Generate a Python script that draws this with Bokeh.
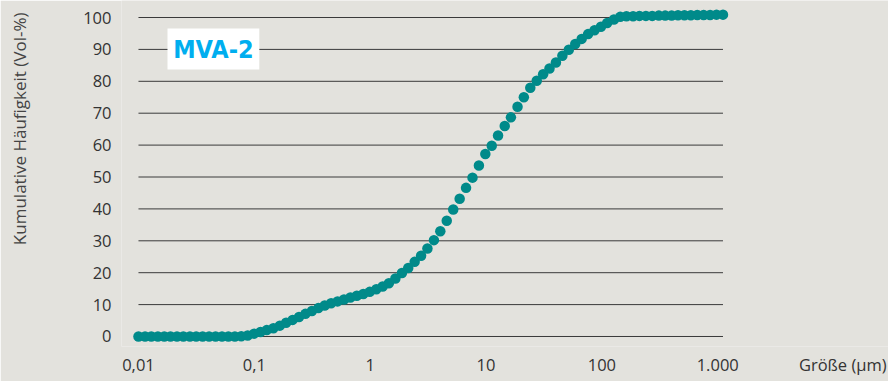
from bokeh.plotting import figure
from bokeh.models import FixedTicker, Label, BoxAnnotation, ColumnDataSource, Title
from bokeh.embed import file_html
from bokeh.resources import INLINE

# Size classes (µm)
sizes = [0.0100, 0.0114, 0.0129, 0.0147, 0.0167, 0.0189, 0.0215, 0.0244, 0.0278, 0.0315,
         0.0358, 0.0407, 0.0463, 0.0526, 0.0597, 0.0679, 0.0771, 0.0876, 0.0995, 0.113,
         0.128, 0.146, 0.166, 0.188, 0.214, 0.243, 0.276, 0.314, 0.357, 0.405,
         0.460, 0.523, 0.594, 0.675, 0.767, 0.872, 0.991, 1.13, 1.28, 1.45,
         1.65, 1.88, 2.13, 2.42, 2.75, 3.12, 3.55, 4.03, 4.58, 5.21,
         5.92, 6.72, 7.64, 8.68, 9.86, 11.2, 12.7, 14.5, 16.4, 18.7,
         21.2, 24.1, 27.4, 31.1, 35.3, 40.1, 45.6, 51.8, 58.9, 66.9,
         76.0, 86.4, 98.1, 111, 127, 144, 163, 186, 211, 240,
         272, 310, 352, 400, 454, 516, 586, 666, 756, 859,
         976, 1110]

# Cumulative frequency (Vol-%)
cumulative = [0, 0, 0, 0, 0, 0, 0, 0, 0, 0,
              0, 0, 0, 0, 0, 0, 0.1, 0.3, 0.9, 1.4,
              2.0, 2.6, 3.4, 4.3, 5.2, 6.1, 7.1, 8.0, 8.9, 9.7,
              10.4, 11.0, 11.6, 12.2, 12.8, 13.3, 14.0, 14.8, 15.7, 16.7,
              18.2, 19.9, 21.5, 23.4, 25.3, 27.6, 30.2, 33.0, 36.3, 39.8,
              43.2, 46.6, 49.8, 53.6, 57.2, 59.8, 63.0, 66.0, 68.7, 72.0,
              75.0, 78.0, 80.2, 82.2, 84.0, 85.9, 88.0, 89.9, 91.7, 93.3,
              94.8, 96.0, 97.1, 98.3, 99.4, 100.2, 100.4, 100.4, 100.5, 100.5,
              100.5, 100.6, 100.6, 100.6, 100.7, 100.7, 100.7, 100.8, 100.8, 100.8,
              100.9, 100.9]

x_ticks = [0.01, 0.1, 1, 10, 100, 1000]
x_tick_labels = ["0,01", "0,1", "1", "10", "100", "1.000"]
x_title = "Größe (µm)"
x_title_pos = 12000
y_ticks = [0, 10, 20, 30, 40, 50, 60, 70, 80, 90, 100]
y_title = "Kumulative Häufigkeit (Vol-%)"
tag = "MVA-2"

BG = "#e3e2dd"
TEAL = "#008a8a"
FONT = "Open Sans"

p = figure(width=888, height=381, x_axis_type="log",
           x_range=(10 ** -2.1466, 10 ** 4.474), y_range=(-3.135, 105.33),
           output_backend="svg", toolbar_location=None,
           min_border_left=120, min_border_right=0, min_border_top=0, min_border_bottom=35)
p.background_fill_color = BG
p.border_fill_color = BG
p.outline_line_color = None
p.xgrid.visible = False
p.ygrid.visible = False

# horizontal grid lines spanning the data extent
p.segment(x0=[sizes[0]] * len(y_ticks), x1=[sizes[-1]] * len(y_ticks), y0=y_ticks, y1=y_ticks,
          line_color="#3a3a3a", line_width=1)

src = ColumnDataSource(dict(x=sizes, y=cumulative))
p.scatter("x", "y", source=src, size=10.5, fill_color=TEAL, line_color=None)

for ax in (p.xaxis[0], p.yaxis[0]):
    ax.axis_line_color = None
    ax.major_tick_line_color = None
    ax.minor_tick_line_color = None
    ax.major_tick_out = 0
    ax.major_tick_in = 0
    ax.minor_tick_out = 0
    ax.major_label_text_font = FONT
    ax.major_label_text_font_size = "16.5px"
    ax.major_label_text_color = "#333333"

p.xaxis.ticker = FixedTicker(ticks=x_ticks + [x_title_pos])
overrides = {t: l for t, l in zip(x_ticks, x_tick_labels)}
overrides[x_title_pos] = x_title
p.xaxis.major_label_overrides = overrides
p.xaxis.major_label_standoff = 6
p.yaxis.ticker = FixedTicker(ticks=y_ticks)
p.yaxis.major_label_standoff = 10
# invisible spacer so the axis title sits near the left edge
p.yaxis.axis_label = "\u00a0"
p.yaxis.axis_label_text_font_size = "1px"
p.yaxis.axis_label_standoff = 41

# y axis title (top-aligned like the original)
p.add_layout(Title(text=y_title, align="right", offset=12, vertical_align="bottom",
                   text_font=FONT, text_font_style="normal", text_font_size="17px",
                   text_color="#444444", standoff=10), "left")

# MVA-2 tag
p.add_layout(BoxAnnotation(left=0.0178, right=0.1104, bottom=83.7, top=96.55,
                           fill_color="white", fill_alpha=1, line_color=None))
p.add_layout(Label(x=10 ** -1.353, y=90.1, text=tag, text_align="center", text_baseline="middle",
                   text_font="'Noto Sans Condensed', 'Liberation Sans Narrow', 'DejaVu Sans Condensed', Roboto, sans-serif",
                   text_font_style="bold", text_font_size="25px", text_color="#00aeef"))

html = file_html(p, INLINE)
html = html.replace("<body>", '<body style="background-color:%s; margin:0; overflow:hidden;">' % BG, 1)
open("out.html", "w").write(html)
